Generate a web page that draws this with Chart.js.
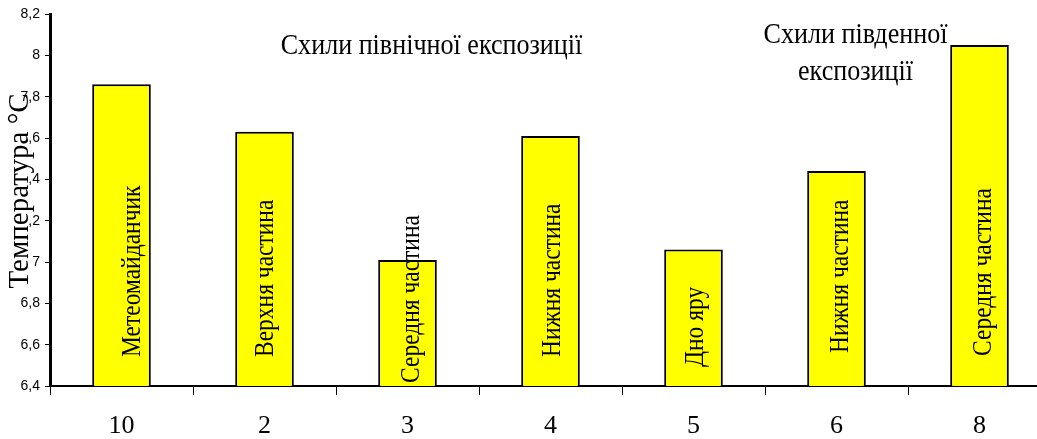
<!DOCTYPE html>
<html>
<head>
<meta charset="utf-8">
<script src="https://cdn.jsdelivr.net/npm/chart.js@4/dist/chart.umd.min.js"></script>
<style>
  html, body { margin: 0; padding: 0; overflow: hidden; background: #fff; }
  #wrap { width: 1060px; height: 439px; }
</style>
</head>
<body>
<div id="wrap"><canvas id="c" width="1060" height="439"></canvas></div>
<script>
// data
const categories = ['10', '2', '3', '4', '5', '6', '8'];
const temperatures = [7.86, 7.63, 7.01, 7.61, 7.06, 7.44, 8.05];
const barLabels = ['Метеомайданчик', 'Верхня частина', 'Середня частина', 'Нижня частина', 'Дно яру', 'Нижня частина', 'Середня частина'];
const northTitle = ['Схили північної експозиції'];
const southTitle = ['Схили південної', 'експозиції'];
const yTitleWord = 'Температура';
const yTitleUnit = ' °С';
const yMin = 6.4, yMax = 8.2, yStep = 0.2;

const SERIF = '"Liberation Serif", "Times New Roman", serif';
const SANS = '"Liberation Sans", Arial, sans-serif';
const SQUEEZE = 0.87; // text in the original is a bit narrow

// [baseline shift from bar centre, lift of text start above the base] per bar
const labelNudge = [[18, 29], [8, 29], [11, 3], [9, 29], [9, 19], [11, 33], [11, 30]];

function squeezedText(ctx, text, x, y, rot, align) {
  ctx.save();
  ctx.translate(x, y);
  if (rot) ctx.rotate(rot);
  ctx.scale(SQUEEZE, 1);
  ctx.textAlign = align || 'left';
  ctx.fillText(text, 0, 0);
  ctx.restore();
}

const annotations = {
  id: 'annotations',
  afterDraw(chart) {
    const ctx = chart.ctx;
    const xs = chart.scales.x, ys = chart.scales.y;
    const base = ys.getPixelForValue(yMin);
    ctx.save();
    ctx.fillStyle = '#000';
    ctx.textBaseline = 'alphabetic';

    // names of the sites, written up the bars
    ctx.font = '27px ' + SERIF;
    barLabels.forEach((t, i) => {
      const [dx, lift] = labelNudge[i];
      squeezedText(ctx, t, xs.getPixelForValue(i) + dx, base - lift, -Math.PI / 2, 'left');
    });

    // group captions
    ctx.font = '30px ' + SERIF;
    const northX = xs.getPixelForValue(2) + 24;
    northTitle.forEach((t, k) => squeezedText(ctx, t, northX, 54 + k * 37, 0, 'center'));
    const southX = xs.getPixelForValue(5) + 19;
    southTitle.forEach((t, k) => squeezedText(ctx, t, southX, 43 + k * 37, 0, 'center'));

    // y axis title, sitting over the tick labels with a white backing
    ctx.font = '29px ' + SERIF;
    const full = yTitleWord + yTitleUnit;
    const wFull = ctx.measureText(full).width;
    const wWord = ctx.measureText(yTitleWord).width;
    ctx.translate(28, 191);
    ctx.rotate(-Math.PI / 2);
    ctx.fillStyle = '#fff';
    ctx.fillRect(-wFull / 2, -19, wWord, 19);
    ctx.fillStyle = '#000';
    ctx.textAlign = 'left';
    ctx.fillText(full, -wFull / 2, 0);
    ctx.restore();
  }
};

new Chart(document.getElementById('c'), {
  type: 'bar',
  data: {
    labels: categories,
    datasets: [{
      data: temperatures,
      backgroundColor: '#ffff00',
      borderColor: '#000',
      borderWidth: 2,
      categoryPercentage: 1,
      barPercentage: 0.41
    }]
  },
  options: {
    responsive: false,
    animation: false,
    layout: { padding: { top: 14, right: 9, left: 0, bottom: 0 } },
    plugins: {
      legend: { display: false },
      tooltip: { enabled: false }
    },
    scales: {
      x: {
        offset: true,
        grid: { drawOnChartArea: false, drawTicks: true, tickLength: 9, color: '#000', offset: true },
        border: { color: '#000', width: 2 },
        ticks: { color: '#000', font: { family: SERIF, size: 26 }, padding: 16, maxRotation: 0 },
        afterFit(s) { s.height = 53; }
      },
      y: {
        min: yMin,
        max: yMax,
        grid: { drawOnChartArea: false, drawTicks: true, tickLength: 5, color: '#000' },
        border: { color: '#000', width: 3 },
        ticks: {
          stepSize: yStep,
          color: '#000',
          font: { family: SANS, size: 14 },
          padding: 5,
          callback: v => String(+v.toFixed(1)).replace('.', ',')
        },
        afterFit(s) { s.width = 50; }
      }
    }
  },
  plugins: [annotations]
});
</script>
</body>
</html>
